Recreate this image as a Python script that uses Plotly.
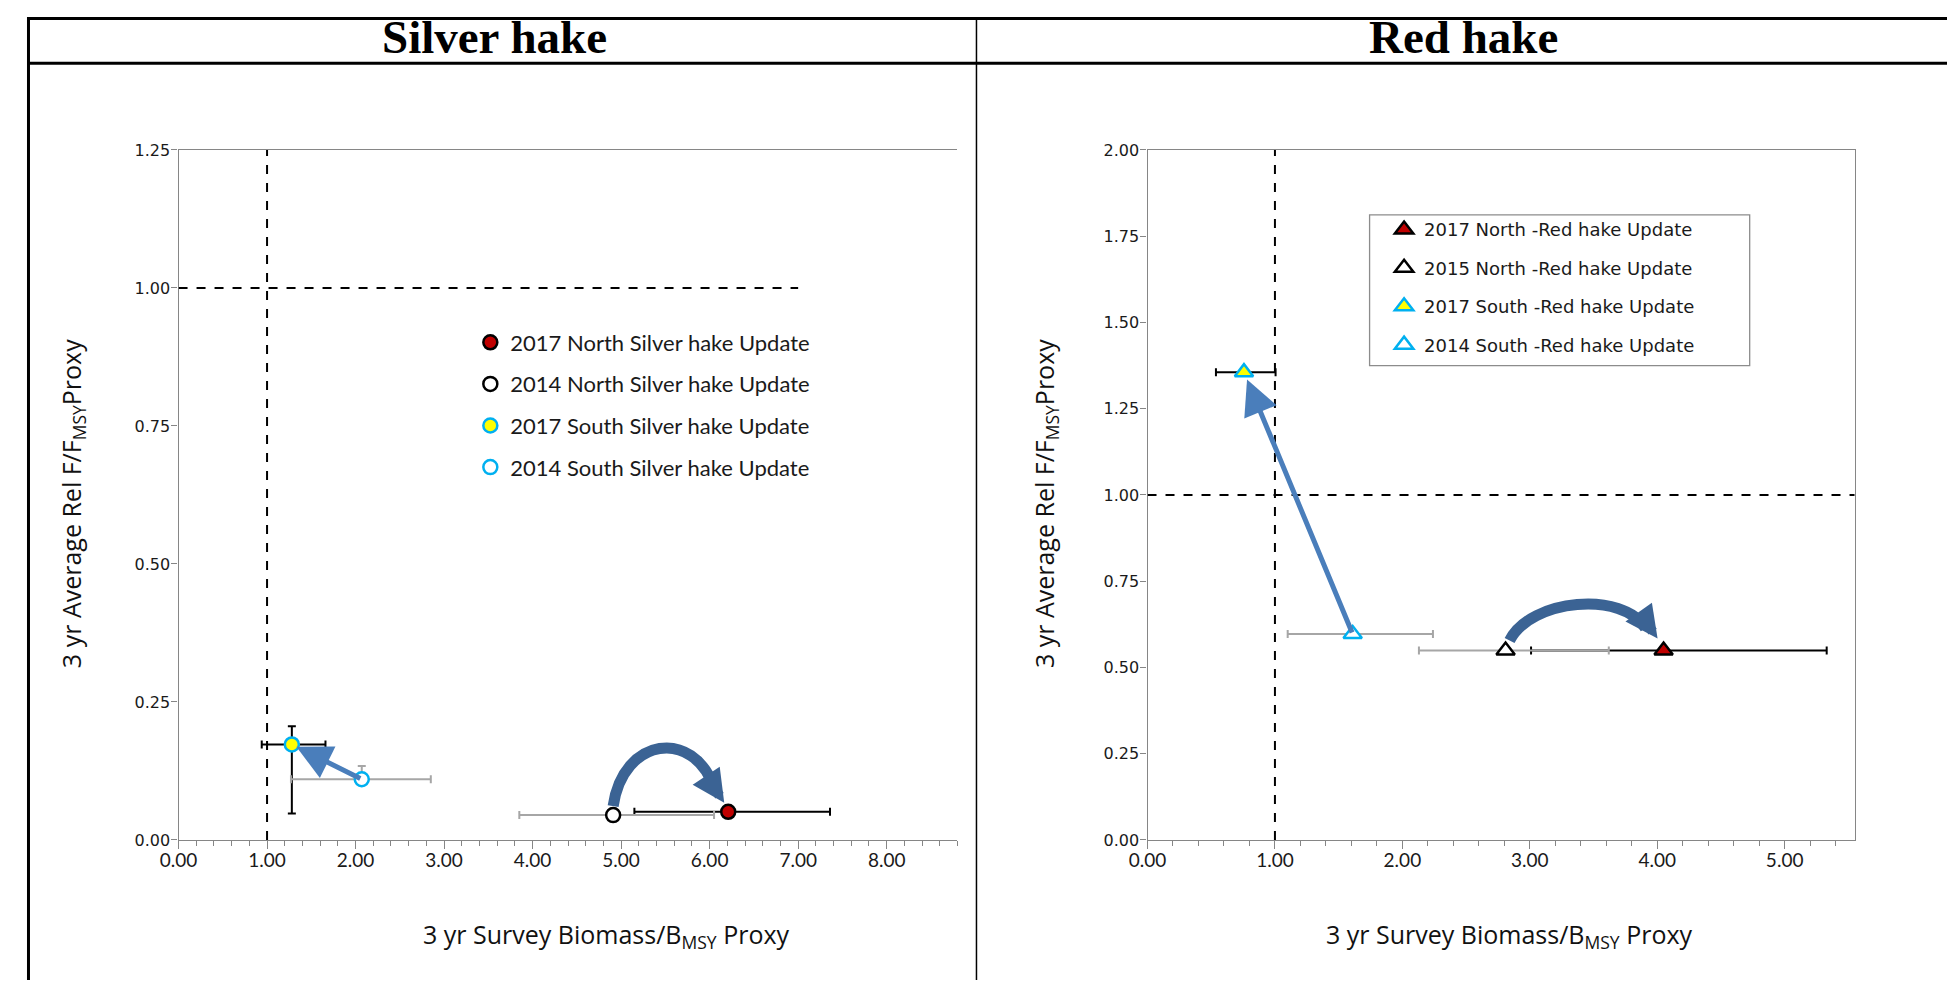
import plotly.graph_objects as go

W, H = 1955, 982

# ---------------- data ----------------
panel_titles = ["Silver hake", "Red hake"]

sh_series = ["2017 North Silver hake Update", "2014 North Silver hake Update",
             "2017 South Silver hake Update", "2014 South Silver hake Update"]
sh_x = [6.21, 4.91, 1.28, 2.07]
sh_y = [0.051, 0.045, 0.173, 0.110]
sh_x_lo = [5.15, 3.85, 0.94, 1.27]
sh_x_hi = [7.36, 6.05, 1.66, 2.85]
sh_y_lo = [None, None, 0.048, 0.100]
sh_y_hi = [None, None, 0.206, 0.134]

rh_series = ["2017 North -Red hake Update", "2015 North -Red hake Update",
             "2017 South -Red hake Update", "2014 South -Red hake Update"]
rh_x = [4.05, 2.81, 0.757, 1.61]
rh_y = [0.549, 0.549, 1.356, 0.597]
rh_x_lo = [3.01, 2.13, 0.537, 1.10]
rh_x_hi = [5.33, 3.62, 1.005, 2.24]

sh_xticks = [0, 1, 2, 3, 4, 5, 6, 7, 8]
sh_yticks = [0, 0.25, 0.5, 0.75, 1.0, 1.25]
rh_xticks = [0, 1, 2, 3, 4, 5]
rh_yticks = [0, 0.25, 0.5, 0.75, 1.0, 1.25, 1.5, 1.75, 2.0]
sh_xmax, sh_ymax = 8.8, 1.25
rh_xmax, rh_ymax = 5.55, 2.0
ref_level = 1.0
sh_hline_end = 7.0

x_title = "3 yr Survey Biomass/B<sub>MSY</sub> Proxy"
y_title = "3 yr Average Rel F/F<sub>MSY</sub>Proxy"

# ---------------- styles ----------------
fills = ["#C00000", "white", "#FFFF00", "white"]
outlines = ["black", "black", "#00B0F0", "#00B0F0"]
errcols = ["black", "#A6A6A6", "black", "#A6A6A6"]
AX = "#868686"
STRAIGHT = "#4A7EBB"
CURVE = "#3B6394"

# page-position helpers (target pixel -> paper fraction, compensating page offset)
OX, OY, SX, SY = 26.8, 16.7, 0.99, 0.98

def X(px):
    return ((px - OX) / SX) / W

def Y(py):
    return 1 - ((py - OY) / SY) / H

# plot areas (target pixels)
L_x0, L_x1 = 178.3, 957.0
R_x0, R_x1 = 1147.0, 1854.0
P_y0, P_y1 = 149.6, 839.1   # top, bottom

lpx = (L_x1 - L_x0) / sh_xmax
lpy = (P_y1 - P_y0) / sh_ymax
rpx = (R_x1 - R_x0) / rh_xmax
rpy = (P_y1 - P_y0) / rh_ymax

fig = go.Figure()

for i, name in enumerate(sh_series):
    ex = dict(type="data", symmetric=False,
              array=[sh_x_hi[i] - sh_x[i]], arrayminus=[sh_x[i] - sh_x_lo[i]],
              color=errcols[i], thickness=2, width=4)
    ey = None
    if sh_y_lo[i] is not None:
        ey = dict(type="data", symmetric=False,
                  array=[sh_y_hi[i] - sh_y[i]], arrayminus=[sh_y[i] - sh_y_lo[i]],
                  color=errcols[i], thickness=2, width=4)
    fig.add_trace(go.Scatter(
        x=[sh_x[i]], y=[sh_y[i]], mode="markers", name=name,
        legend="legend", legendgroup="s%d" % i,
        marker=dict(symbol="circle", size=14, color=fills[i],
                    line=dict(color=outlines[i], width=2.5)),
        error_x=ex, error_y=ey, xaxis="x", yaxis="y"))

for i, name in enumerate(rh_series):
    ex = dict(type="data", symmetric=False,
              array=[rh_x_hi[i] - rh_x[i]], arrayminus=[rh_x[i] - rh_x_lo[i]],
              color=errcols[i], thickness=2, width=4)
    fig.add_trace(go.Scatter(
        x=[rh_x[i]], y=[rh_y[i]], mode="markers", name=name,
        legend="legend2", legendgroup="r%d" % i,
        marker=dict(symbol="triangle-up", size=16, color=fills[i],
                    line=dict(color=outlines[i], width=2.5)),
        error_x=ex, xaxis="x2", yaxis="y2"))

shapes = []
dash = dict(color="black", width=2, dash="dash")
shapes.append(dict(type="line", xref="x", yref="y", x0=ref_level, x1=ref_level,
                   y0=0, y1=sh_ymax, line=dash))
shapes.append(dict(type="line", xref="x", yref="y", x0=0, x1=sh_hline_end,
                   y0=ref_level, y1=ref_level, line=dash))
shapes.append(dict(type="line", xref="x2", yref="y2", x0=ref_level, x1=ref_level,
                   y0=0, y1=rh_ymax, line=dash))
shapes.append(dict(type="line", xref="x2", yref="y2", x0=0, x1=rh_xmax,
                   y0=ref_level, y1=ref_level, line=dash))


def curved(xref, yref, sx, sy, ex_, ey_, kx, ky, pts):
    """pts: pixel offsets [(dx,dy) from start], [from start], [from end], [from end]"""
    def cvt(base_x, base_y, d):
        return base_x + d[0] / kx, base_y - d[1] / ky
    p0 = cvt(sx, sy, pts[0])
    p1 = cvt(sx, sy, pts[1])
    p2 = cvt(ex_, ey_, pts[2])
    p3 = cvt(ex_, ey_, pts[3])
    path = "M %f,%f C %f,%f %f,%f %f,%f" % (p0 + p1 + p2 + p3)
    return dict(type="path", xref=xref, yref=yref, path=path,
                line=dict(color=CURVE, width=11))

shapes.append(curved("x", "y", sh_x[1], sh_y[1], sh_x[0], sh_y[0], lpx, lpy,
                     [(0, -9), (10, -78), (-35, -84), (-14, -24)]))
shapes.append(curved("x2", "y2", rh_x[1], rh_y[1], rh_x[0], rh_y[0], rpx, rpy,
                     [(4, -10), (25, -52), (-40, -60), (-18, -22)]))

# table frame
frame = dict(color="black", width=3)
top_y, mid_y = 1.5, 63.0
shapes.append(dict(type="line", xref="paper", yref="paper", x0=0, x1=X(1950),
                   y0=1 - top_y / H, y1=1 - top_y / H, line=frame))
shapes.append(dict(type="line", xref="paper", yref="paper", x0=0, x1=X(1950),
                   y0=Y(mid_y), y1=Y(mid_y), line=frame))
shapes.append(dict(type="line", xref="paper", yref="paper", x0=1.5 / W, x1=1.5 / W,
                   y0=0, y1=1, line=frame))
shapes.append(dict(type="line", xref="paper", yref="paper", x0=X(1949), x1=X(1949),
                   y0=0, y1=1, line=frame))
shapes.append(dict(type="line", xref="paper", yref="paper", x0=X(976), x1=X(976),
                   y0=0, y1=1, line=dict(color="black", width=1.5)))
# red hake legend box
shapes.append(dict(type="rect", xref="paper", yref="paper", x0=X(1369), x1=X(1749),
                   y0=Y(365), y1=Y(214.5), line=dict(color="#8C8C8C", width=1.3),
                   fillcolor="rgba(0,0,0,0)"))

annotations = []
tfont = dict(family="Liberation Serif", size=47, color="black")
for t, cx in zip(panel_titles, [494, 1463]):
    annotations.append(dict(text="<b>%s</b>" % t, x=X(cx), y=Y(36.5), xref="paper", yref="paper",
                            xanchor="center", yanchor="middle", showarrow=False, font=tfont))
afont = dict(family="Open Sans", size=25, color="#111111")
for cx in [606, 1509]:
    annotations.append(dict(text=x_title, x=X(cx), y=Y(935), xref="paper", yref="paper",
                            xanchor="center", yanchor="middle", showarrow=False, font=afont))
for cx in [72.3, 1045]:
    annotations.append(dict(text=y_title, x=X(cx), y=Y(503), xref="paper", yref="paper",
                            xanchor="center", yanchor="middle", showarrow=False,
                            textangle=-90, font=afont))

annotations.append(dict(x=sh_x[2], y=sh_y[2], ax=sh_x[3], ay=sh_y[3], xref="x", yref="y",
                        axref="x", ayref="y", showarrow=True, arrowhead=2, arrowsize=1.4,
                        arrowwidth=5, arrowcolor=STRAIGHT, standoff=5, text=""))
annotations.append(dict(x=rh_x[2], y=rh_y[2], ax=rh_x[3], ay=rh_y[3], xref="x2", yref="y2",
                        axref="x2", ayref="y2", showarrow=True, arrowhead=2, arrowsize=1.4,
                        arrowwidth=5, arrowcolor=STRAIGHT, standoff=8, text=""))
# heads of curved arrows
annotations.append(dict(x=sh_x[0] - 4 / lpx, y=sh_y[0] + 9 / lpy, ax=-10, ay=-15,
                        xref="x", yref="y", showarrow=True, arrowhead=2, arrowsize=0.65,
                        arrowwidth=10, arrowcolor=CURVE, text=""))
annotations.append(dict(x=rh_x[0] - 6 / rpx, y=rh_y[0] + 12 / rpy, ax=-10, ay=-14,
                        xref="x2", yref="y2", showarrow=True, arrowhead=2, arrowsize=0.65,
                        arrowwidth=10, arrowcolor=CURVE, text=""))

xtickfont = dict(family="Lato", size=19, color="#1a1a1a")
ytickfont = dict(family="DejaVu Sans", size=16, color="#1a1a1a")
common_x = dict(showline=True, linecolor=AX, linewidth=1.3, mirror=True, showgrid=False,
                zeroline=False, ticks="outside", ticklen=8, tickcolor=AX, tickformat=".2f",
                tickfont=xtickfont, ticklabelstandoff=-5,
                minor=dict(dtick=0.2, ticks="outside", ticklen=5, tickcolor=AX))
common_y = dict(showline=True, linecolor=AX, linewidth=1.3, showgrid=False,
                zeroline=False, ticks="outside", ticklen=6, tickcolor=AX, tickformat=".2f",
                tickfont=ytickfont, ticklabelstandoff=-2)

ydom = [Y(P_y1), Y(P_y0)]
fig.update_layout(
    width=W, height=H, margin=dict(l=0, r=0, t=0, b=0),
    paper_bgcolor="white", plot_bgcolor="white",
    xaxis=dict(domain=[X(L_x0), X(L_x1)], range=[0, sh_xmax], tickvals=sh_xticks,
               anchor="y", **common_x),
    yaxis=dict(domain=ydom, range=[0, sh_ymax], tickvals=sh_yticks, anchor="x",
               mirror=False, **common_y),
    xaxis2=dict(domain=[X(R_x0), X(R_x1)], range=[0, rh_xmax], tickvals=rh_xticks,
                anchor="y2", **common_x),
    yaxis2=dict(domain=ydom, range=[0, rh_ymax], tickvals=rh_yticks, anchor="x2",
                mirror=True, **common_y),
    showlegend=True,
    legend=dict(x=X(470), y=Y(321), xanchor="left", yanchor="top",
                bgcolor="rgba(0,0,0,0)", borderwidth=0, tracegroupgap=10,
                font=dict(family="Lato", size=22, color="#1a1a1a")),
    legend2=dict(x=X(1383.5), y=Y(210.8), xanchor="left", yanchor="top",
                 bgcolor="rgba(0,0,0,0)", borderwidth=0, tracegroupgap=12,
                 font=dict(family="DejaVu Sans", size=18, color="#1a1a1a")),
    shapes=shapes, annotations=annotations,
)

fig.write_html("out.html")
